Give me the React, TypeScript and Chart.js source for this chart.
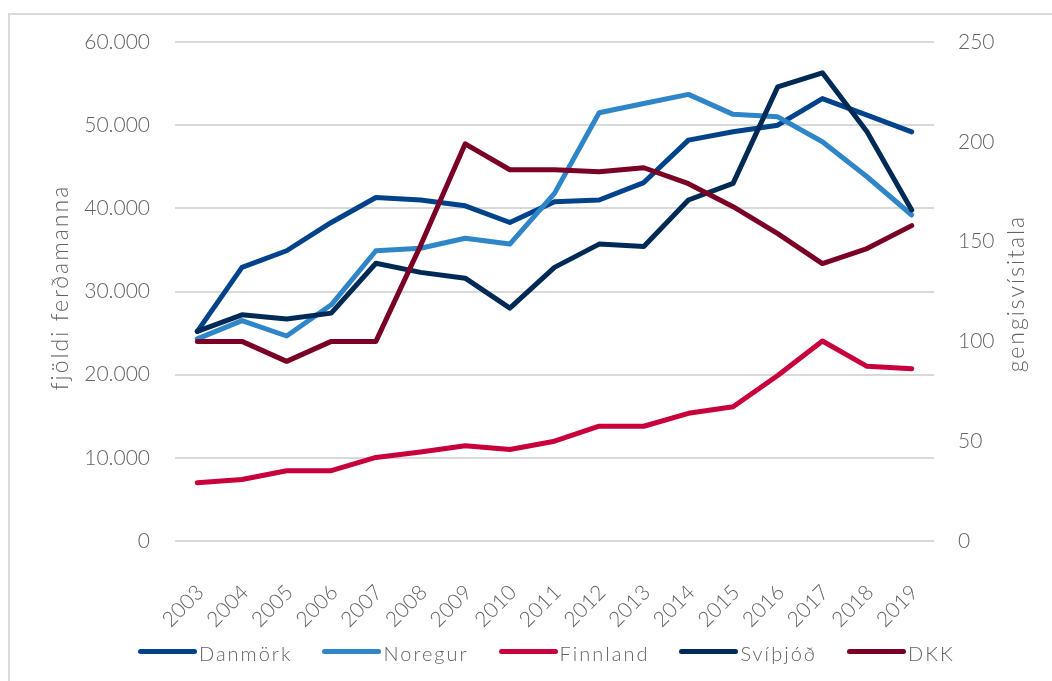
import React, { useEffect, useRef } from "react";
import { Chart, registerables } from "chart.js";

Chart.register(...registerables);

// ---------- data ----------
const years = ["2003", "2004", "2005", "2006", "2007", "2008", "2009", "2010", "2011", "2012", "2013", "2014", "2015", "2016", "2017", "2018", "2019"];
const danmork = [25200, 32900, 34900, 38300, 41300, 41000, 40300, 38300, 40800, 41000, 43100, 48200, 49200, 50000, 53200, 51200, 49200];
const noregur = [24300, 26500, 24650, 28400, 34900, 35200, 36400, 35700, 41800, 51500, 52600, 53700, 51300, 51000, 48000, 43800, 39200];
const finnland = [7000, 7400, 8450, 8450, 10050, 10700, 11450, 11000, 12000, 13800, 13800, 15350, 16150, 19900, 24050, 21000, 20700];
const svithjod = [25200, 27200, 26700, 27400, 33400, 32300, 31600, 28000, 32900, 35700, 35400, 41000, 43000, 54600, 56300, 49200, 39800];
const dkk = [100, 100, 90, 100, 100, 148, 199, 186, 186, 185, 187, 179, 167.5, 154, 139, 146.5, 158];

const seriesNames = ["Danmörk", "Noregur", "Finnland", "Svíþjóð", "DKK"];
const seriesColors = ["#00438a", "#2e86c8", "#c8003c", "#002a56", "#7a0025"];
const leftTitle = "fjöldi ferðamanna";
const rightTitle = "gengisvísitala";
const leftMax = 60000;
const leftStep = 10000;
const rightMax = 250;
const rightStep = 50;

const TEXT = "#636363";
const FONT = "Lato";

const fmtThousands = (v: number) =>
  String(v).replace(/\B(?=(\d{3})+(?!\d))/g, ".");

const axisTitlePlugin = {
  id: "axisTitlesCustom",
  afterDraw(chart: any) {
    const { ctx, chartArea } = chart;
    const cy = (chartArea.top + chartArea.bottom) / 2;
    ctx.save();
    ctx.font = `300 23px ${FONT}`;
    ctx.fillStyle = TEXT;
    try { (ctx as any).letterSpacing = "2px"; } catch (e) {}
    ctx.textAlign = "center";
    ctx.textBaseline = "middle";
    ctx.save();
    ctx.translate(chartArea.left - 114, cy - 4);
    ctx.rotate(-Math.PI / 2);
    ctx.fillText(leftTitle, 0, 0);
    ctx.restore();
    ctx.save();
    ctx.translate(chartArea.right + 83, cy + 2);
    ctx.rotate(-Math.PI / 2);
    ctx.fillText(rightTitle, 0, 0);
    ctx.restore();
    ctx.restore();
  },
};

export default function App() {
  const ref = useRef<HTMLCanvasElement | null>(null);

  useEffect(() => {
    if (!ref.current) return;
    const all = [danmork, noregur, finnland, svithjod, dkk];
    const datasets = all.map((d, i) => ({
      label: seriesNames[i],
      data: d,
      borderColor: seriesColors[i],
      backgroundColor: seriesColors[i],
      borderWidth: 5,
      pointRadius: 0,
      pointHoverRadius: 0,
      tension: 0,
      borderCapStyle: "round" as const,
      borderJoinStyle: "round" as const,
      yAxisID: i === 4 ? "y1" : "y",
      order: 5 - i,
    }));
    const tickFont = { family: FONT, size: 21, weight: 300 as any };
    const fitY = (w: number) => (s: any) => {
      s.width = w;
      s.paddingTop = 0;
      s.paddingBottom = 0;
    };
    const chart = new Chart(ref.current, {
      type: "line",
      data: { labels: years, datasets },
      options: {
        responsive: false,
        animation: false,
        layout: { padding: { top: 27, left: 0, right: 0, bottom: 0 } },
        plugins: { legend: { display: false }, tooltip: { enabled: false } },
        scales: {
          x: {
            type: "category",
            offset: true,
            grid: { display: false, drawTicks: false },
            border: { display: false },
            ticks: {
              autoSkip: false,
              minRotation: 45,
              maxRotation: 45,
              padding: 39,
              labelOffset: 3,
              color: TEXT,
              font: tickFont,
            },
            afterFit: (s: any) => {
              s.height = 140;
              s.paddingLeft = 0;
              s.paddingRight = 0;
            },
          },
          y: {
            position: "left",
            min: 0,
            max: leftMax,
            grid: { color: "#d9d9d9", lineWidth: 2, drawTicks: false },
            border: { display: false },
            ticks: {
              stepSize: leftStep,
              padding: 25,
              color: TEXT,
              font: tickFont,
              callback: (v: any) => fmtThousands(Number(v)),
            },
            afterFit: fitY(165),
          },
          y1: {
            position: "right",
            min: 0,
            max: rightMax,
            grid: { display: false, drawTicks: false },
            border: { display: false },
            ticks: {
              stepSize: rightStep,
              padding: 24,
              color: TEXT,
              font: tickFont,
            },
            afterFit: fitY(118),
          },
        },
      },
      plugins: [axisTitlePlugin],
    });
    return () => chart.destroy();
  }, []);

  return (
    <>
      <style>{`html,body{overflow:hidden;}`}</style>
      <div
        style={{
          position: "absolute",
          left: 8,
          top: 13,
          width: 1044,
          height: 668,
          borderTop: "2px solid #d9d9d9",
          borderLeft: "2px solid #d9d9d9",
          overflow: "hidden",
          background: "#fff",
        }}
      >
        <canvas ref={ref} width={1042} height={666} style={{ display: "block", width: 1042, height: 666 }} />
        <div
          style={{
            position: "absolute",
            left: 128,
            top: 626,
            display: "flex",
            flexDirection: "row",
            gap: 30,
            fontFamily: FONT,
            fontWeight: 300,
            fontSize: 20,
            lineHeight: "24px",
            letterSpacing: "2px",
            color: TEXT,
            whiteSpace: "nowrap",
          }}
        >
          {seriesNames.map((n, i) => (
            <div key={n} style={{ display: "flex", alignItems: "flex-start" }}>
              <span
                style={{
                  display: "inline-block",
                  width: 59,
                  height: 5,
                  borderRadius: 3,
                  background: seriesColors[i],
                  marginTop: 8,
                  marginRight: 2,
                }}
              />
              <span>{n}</span>
            </div>
          ))}
        </div>
      </div>
    </>
  );
}
